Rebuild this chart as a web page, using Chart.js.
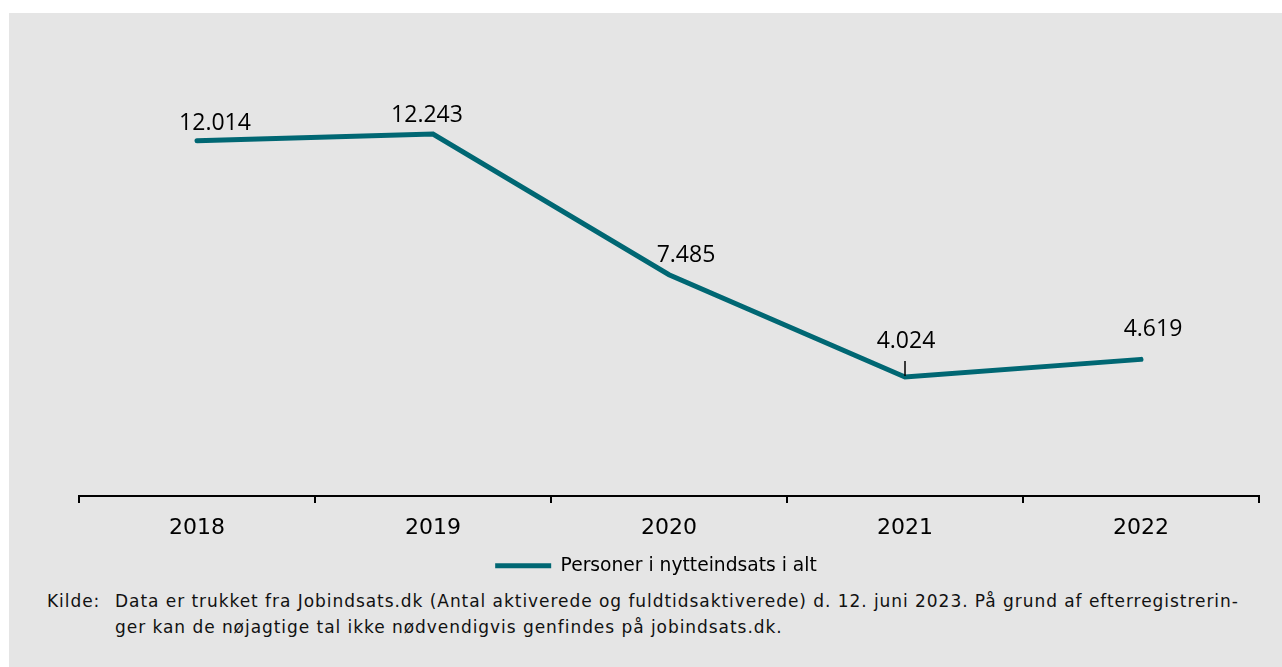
<!DOCTYPE html>
<html lang="da">
<head>
<meta charset="utf-8">
<script src="https://cdn.jsdelivr.net/npm/chart.js@4"></script>
<style>
  html, body { margin: 0; padding: 0; background: #ffffff; }
  #panel {
    position: absolute; left: 9px; top: 13px; width: 1273px; height: 654px;
    background: #e5e5e5;
  }
  #chartBox { position: absolute; left: 0; top: 0; width: 1273px; height: 572px; }
  #source {
    position: absolute; left: 38px; top: 575px; width: 1230px;
    font-family: "DejaVu Sans", sans-serif; font-size: 17px; line-height: 26px; color: #111;
    letter-spacing: 0.95px;
    display: flex;
  }
  #source .lbl { width: 68px; flex: none; }
</style>
</head>
<body>
<div id="panel">
  <div id="chartBox"><canvas id="chart"></canvas></div>
  <div id="source">
    <div class="lbl">Kilde:</div>
    <div>Data er trukket fra Jobindsats.dk (Antal aktiverede og fuldtidsaktiverede) d. 12. juni 2023. På grund af efterregistrerin-<br>ger kan de nøjagtige tal ikke nødvendigvis genfindes på jobindsats.dk.</div>
  </div>
</div>
<script>
const years = ['2018', '2019', '2020', '2021', '2022'];
const persons = [12014, 12243, 7485, 4024, 4619];
const seriesName = 'Personer i nytteindsats i alt';

// label offsets from the point (px), as placed in the original
const labelShift = [[18, -17], [-6, -19], [17, -19], [1, -36], [12, -30]];

function fmt(v) {
  return String(v).replace(/\B(?=(\d{3})+(?!\d))/g, '.');
}

const valueLabels = {
  id: 'valueLabels',
  afterLayout(chart) {
    // legend sits a bit left of the plot centre in the original
    chart.legend.left -= 13;
    chart.legend.right -= 13;
  },
  afterDatasetsDraw(chart) {
    const ctx = chart.ctx;
    const meta = chart.getDatasetMeta(0);
    ctx.save();
    ctx.font = '23px "Open Sans", sans-serif';
    ctx.fillStyle = '#000';
    ctx.textAlign = 'center';
    ctx.textBaseline = 'middle';
    meta.data.forEach((pt, i) => {
      const [dx, dy] = labelShift[i];
      ctx.fillText(fmt(persons[i]), pt.x + dx, pt.y + dy);
      if (dy < -30 && Math.abs(dx) < 5) {
        // small leader line when label sits further away
        ctx.strokeStyle = '#000';
        ctx.lineWidth = 1.5;
        ctx.beginPath();
        ctx.moveTo(pt.x, pt.y + dy + 20);
        ctx.lineTo(pt.x, pt.y - 1);
        ctx.stroke();
      }
    });
    ctx.restore();
  }
};

new Chart(document.getElementById('chart'), {
  type: 'line',
  data: {
    labels: years,
    datasets: [{
      label: seriesName,
      data: persons,
      borderColor: '#006773',
      backgroundColor: '#006773',
      borderWidth: 5,
      borderCapStyle: 'round',
      pointRadius: 0,
      pointHoverRadius: 0,
      tension: 0
    }]
  },
  options: {
    responsive: true,
    maintainAspectRatio: false,
    animation: false,
    layout: { padding: { left: 70, right: 23, top: 10, bottom: 0 } },
    scales: {
      x: {
        offset: true,
        grid: {
          offset: true,
          drawOnChartArea: false,
          drawTicks: true,
          tickLength: 7,
          color: '#000',
          lineWidth: 2
        },
        border: { display: true, color: '#000', width: 2 },
        ticks: {
          color: '#000',
          padding: 12,
          font: { family: '"DejaVu Sans", sans-serif', size: 22 }
        }
      },
      y: {
        display: false,
        min: 0,
        max: 16000
      }
    },
    plugins: {
      legend: {
        position: 'bottom',
        labels: {
          usePointStyle: true,
          pointStyle: 'line',
          pointStyleWidth: 56,
          padding: 3,
          color: '#000',
          font: { family: '"DejaVu Sans", sans-serif', size: 18.7 }
        }
      },
      tooltip: { enabled: false }
    }
  },
  plugins: [valueLabels]
});
</script>
</body>
</html>
